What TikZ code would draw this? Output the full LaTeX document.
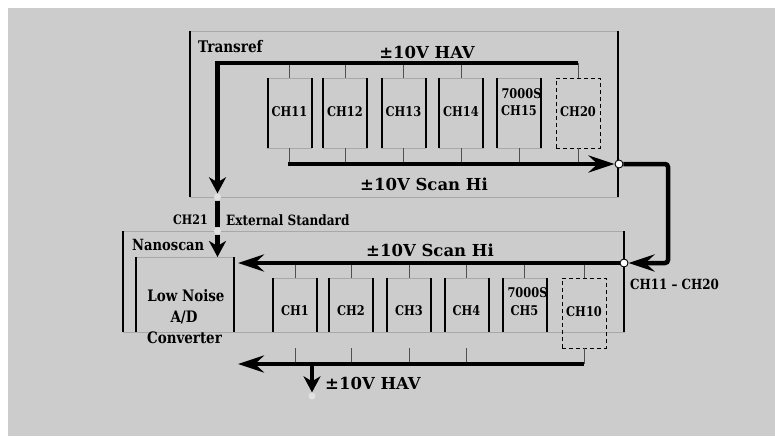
\documentclass[tikz,border=0pt]{standalone}
\usepackage{fontspec}
\setmainfont{DejaVu Serif}
\newfontfamily\condf{DejaVu Serif}[FakeStretch=0.85]
\newcommand\mysz[1]{\fontsize{#1}{#1}\selectfont}
\usetikzlibrary{arrows.meta}
\definecolor{bg}{HTML}{CCCCCC}
\definecolor{thinc}{HTML}{A8A8A8}
\definecolor{tickc}{HTML}{505050}
\definecolor{dotc}{HTML}{E2E2E2}
\begin{document}
\begin{tikzpicture}[x=1pt,y=-1pt,
  lab/.style={font=\condf\bfseries\mysz{#1}, inner sep=0},
  lab/.default=13.4,
  big/.style={font=\bfseries\mysz{16.5}, inner sep=0},
  frame/.style={draw=thinc, line width=0.8pt, inner sep=0, outer sep=0, rectangle},
  chbox/.style={frame, minimum width=44pt, minimum height=70pt},
  dbox/.style={chbox, draw=black, line width=1pt, dash pattern=on 4pt off 3pt},
  side/.style={line width=2pt, black},
  tk/.style={draw=tickc, line width=1pt},
  bus/.style={line width=4.5pt, black},
  harr/.style={-{Stealth[length=26pt,width=17pt,inset=9pt]}},
  varr/.style={-{Stealth[length=16pt,width=17pt,inset=5pt]}},
  hole/.style={circle, draw=black, fill=white, line width=0.9pt, minimum size=8pt, inner sep=0},
  term/.style={circle, fill=dotc, minimum size=7pt, inner sep=0}
]
\useasboundingbox (0,0) rectangle (775,436);
\fill[white] (0,0) rectangle (775,436);
\fill[bg] (8,8) rectangle (775,436);

% ---------- frames ----------
\node[frame, minimum width=428pt, minimum height=166pt] (tr) at (404,114) {};
\node[frame, minimum width=501pt, minimum height=101pt] (ns) at (373.5,281.5) {};
\node[frame, minimum width=98pt, minimum height=75pt] (ad) at (185,294.5) {};

% ---------- upper channel boxes ----------
\foreach \i/\x in {11/289.5,12/345,13/403.5,14/461,15/519}
  \node[chbox] (c\i) at (\x,113) {};
\node[dbox] (c20) at (578,113) {};
\foreach \i in {11,12,13,14}
  \node[lab] at (c\i) [yshift=1pt] {CH\i};
\node[lab] (s15) at (521.5,94) {7000S};
\node[lab] at (519,111) {CH15};
\node[lab] at (578,112) {CH20};

% ---------- lower channel boxes ----------
\foreach \i/\x in {1/295,2/351,3/409,4/466.5,5/524.5}
  \node[chbox, minimum height=54pt] (c\i) at (\x,305) {};
\node[dbox] (c10) at (584,313) {};
\foreach \i in {1,2,3,4}
  \node[lab] at (c\i.center) [yshift=-6pt] {CH\i};
\node[lab] (s5) at (527.5,293) {7000S};
\node[lab] at (524.5,311) {CH5};
\node[lab] at (584,312) {CH10};

% ---------- black sides ----------
\foreach \n in {tr,ns}
  \draw[side, line width=1.6pt] (\n.north west) -- (\n.south west) (\n.north east) -- (\n.south east);
\foreach \n in {ad,c11,c12,c13,c14,c15,c1,c2,c3,c4,c5}
  \draw[side] (\n.north west) -- (\n.south west) (\n.north east) -- (\n.south east);

% ---------- terminals ----------
\node[term] (t1) at (217.5,197) {};
\node[term] (t2) at (217.5,231) {};
\node[term] (t3) at (312,396) {};
\node[hole] (h1) at (619,164) {};
\node[hole] (h2) at (624,263) {};

% ---------- upper HAV bus ----------
\coordinate (havL) at (217.5,63);
\coordinate (havR) at (c20.north |- havL);
\foreach \i in {11,12,13,14,20}
  \draw[tk] (c\i.north) -- (c\i.north |- havL);
\draw[bus, varr] (havR) -- (havL) -- (t1);
\draw[bus] (t1) -- (t2);
\draw[bus, varr] (t2) -- (t2 |- ad.north);

% ---------- upper scan bus ----------
\coordinate (scL) at (288,164);
\foreach \i in {11,12,13,14,15,20}
  \draw[tk] (c\i.south) -- (c\i.south |- scL);
\draw[bus, harr] (scL) -- (h1);
\coordinate (bend) at (668,164);
\draw[bus, harr, rounded corners=3pt] (h1) -- (bend) |- (h2);

% ---------- lower scan bus ----------
\foreach \i in {1,2,3,4,5,10}
  \draw[tk] (c\i.north) -- (c\i.north |- h2);
\draw[bus, harr] (h2) -- ([xshift=4pt]ad.east |- h2);

% ---------- lower HAV bus ----------
\coordinate (lh) at (c10.south |- 0,364);
\draw[tk] (c10.south) -- (lh);
\foreach \i in {1,2,3,4}
  \draw[tk] (c\i.south |- c10.south) -- (c\i.south |- lh);
\draw[bus, harr] (lh) -- ([xshift=4pt]ad.east |- lh);
\coordinate (dn) at (312,364);
\draw[bus, varr] (dn) -- (t3);

% ---------- labels ----------
\node[lab=16, anchor=west] at (198,47) {Transref};
\node[big] at (427,52) {±10V HAV};
\node[big] at (424,184) {±10V Scan Hi};
\node[lab=13, anchor=east] at (208,220) {CH21};
\node[lab=14.2, anchor=west] at (226,220) {External Standard};
\node[lab=15.4, anchor=west] at (132,245) {Nanoscan};
\node[big] at (430,250) {±10V Scan Hi};
\node[lab=14, anchor=west] at (630,284) {CH11 – CH20};
\node[lab=15.8, anchor=base] at (186,301.5) {Low Noise};
\node[lab=15.8, anchor=base] at (184,322.5) {A/D};
\node[lab=15.8, anchor=base] at (184.5,343.5) {Converter};
\node[big, anchor=west] at (325,383) {±10V HAV};
\end{tikzpicture}
\end{document}
